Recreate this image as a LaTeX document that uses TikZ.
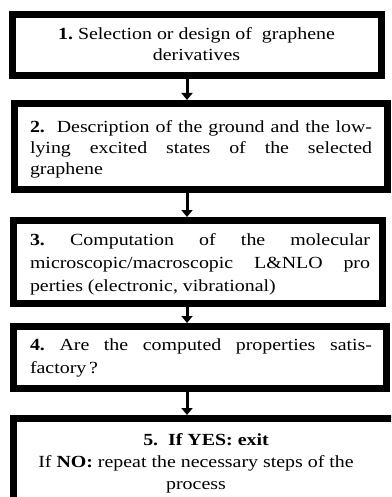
\documentclass[tikz,border=0pt]{standalone}
\usepackage{fontspec}
\setmainfont[FakeStretch=1.17]{Liberation Serif}
\usetikzlibrary{arrows.meta}
\newcommand\jl[1]{\makebox[\linewidth][s]{#1}}
\begin{document}
\begin{tikzpicture}[x=1pt,y=-1pt,
  box/.style={draw=black, line width=7pt, inner sep=0pt, fill=white},
  txt/.style={inner sep=0pt, outer sep=0pt},
  arr/.style={line width=3pt, -{Triangle[width=11pt,length=7pt]}}]
\useasboundingbox (0,0) rectangle (391,497);
\clip (0,0) rectangle (391,497);
\fill[white] (0,0) rectangle (391,497);
% boxes
\node[box, minimum width=369pt, minimum height=61pt] (b1) at (197,45) {};
\node[box, minimum width=373pt, minimum height=86pt] (b2) at (201,146.5) {};
\node[box, minimum width=369pt, minimum height=83pt] (b3) at (198,262) {};
\node[box, minimum width=373pt, minimum height=62pt] (b4) at (200,357.5) {};
\node[box, minimum width=382pt, minimum height=87pt] (b5) at (204.5,462) {};
% texts
\node[txt, anchor=base] (t1) at (196.5,40) {\parbox[t]{330pt}{\fontsize{17}{21}\selectfont\centering
  \textbf{1.}\ Selection or design of\ \ graphene\\ derivatives}};
\node[txt, anchor=base west] (t2) at (30,133) {\parbox[t]{342pt}{\fontsize{17}{20.5}\selectfont
  \jl{\textbf{2.}\ \ Description of the ground and the low-}\\
  \jl{lying excited states of the selected}\\
  graphene}};
\node[txt, anchor=base west] (t3) at (30,245) {\parbox[t]{340pt}{\fontsize{17}{23}\selectfont
  \jl{\textbf{3.}\ Computation of the molecular}\\
  \jl{microscopic/macroscopic L\&NLO pro}\\
  perties (electronic, vibrational)}};
\node[txt, anchor=base west] (t4) at (30,350) {\parbox[t]{342pt}{\fontsize{17}{23}\selectfont
  \jl{\textbf{4.}\ Are the computed properties satis-}\\
  factory\,?}};
\node[txt, anchor=base] (t5) at (196,445) {\parbox[t]{360pt}{\fontsize{17}{22}\selectfont\centering
  \hspace*{20pt}\textbf{5.\ \ If YES: exit}\\
  If \textbf{NO:} repeat the necessary steps of the\\
  process}};
% connectors
\coordinate (ax) at (187,0);
\draw[arr] (b1.south -| ax) -- (b2.north -| ax);
\draw[arr] (b2.south -| ax) -- (b3.north -| ax);
\draw[arr] (b3.south -| ax) -- (b4.north -| ax);
\draw[arr] (b4.south -| ax) -- (b5.north -| ax);
\end{tikzpicture}
\end{document}
